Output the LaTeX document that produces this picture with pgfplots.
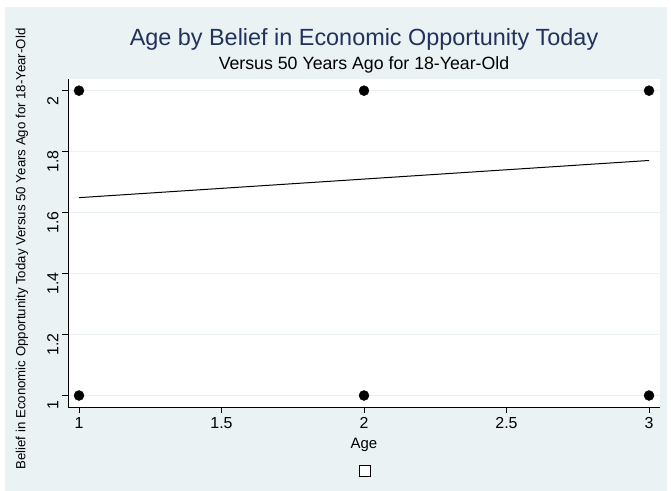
\documentclass[border=0pt]{standalone}
\usepackage{pgfplots}
\pgfplotsset{compat=1.18}
\usepackage{fontspec}
\setmainfont{Liberation Sans}

\definecolor{bgc}{RGB}{234,242,243}
\definecolor{titlec}{RGB}{33,50,92}

\begin{document}
\begin{tikzpicture}[x=1bp,y=1bp]
  % page and graph region
  \fill[white] (0,0) rectangle (671,491);
  \fill[bgc] (5,0) rectangle (667,484);

  \begin{axis}[
    at={(68bp,84bp)}, anchor=south west,
    scale only axis,
    width=592bp, height=328bp,
    xmin=0.9614, xmax=3.0386,
    ymin=0.9623, ymax=2.0383,
    axis background/.style={fill=white},
    axis x line*=bottom, axis y line*=left,
    axis line style={black, line width=0.8bp},
    xtick={1,1.5,2,2.5,3},
    ytick={1,1.2,1.4,1.6,1.8,2},
    tick align=outside,
    major tick length=6bp,
    tick style={black, line width=0.8bp},
    ymajorgrids,
    grid style={bgc, line width=1.2bp},
    /pgf/number format/assume math mode=true,
    ticklabel style={font=\fontsize{16}{16}\selectfont},
    xticklabel style={yshift=-1bp},
    yticklabel style={rotate=90, anchor=south, xshift=-10bp},
    clip=false,
  ]
    % observations
    \addplot[only marks, mark=*, mark size=5bp, black]
      coordinates {(1,1) (1,2) (2,1) (2,2) (3,1) (3,2)};
    % linear fit
    \addplot[black, line width=1bp]
      coordinates {(1,1.649) (3,1.771)};
  \end{axis}

  % titles
  \node[anchor=base, text=titlec, font=\fontsize{23.5}{23.5}\selectfont]
    at (364,445.3) {Age by Belief in Economic Opportunity Today};
  \node[anchor=base, font=\fontsize{17.8}{17.8}\selectfont]
    at (364,421) {Versus 50 Years Ago for 18-Year-Old};

  % axis titles
  \node[anchor=base, font=\fontsize{15}{15}\selectfont]
    at (364,42) {Age};
  \node[rotate=90, font=\fontsize{13.3}{13.3}\selectfont]
    at (22,242) {Belief in Economic Opportunity Today Versus 50 Years Ago for 18-Year-Old};

  % empty legend key
  \node[draw=black, fill=white, line width=0.6bp, minimum size=11bp, inner sep=0pt]
    at (364.5,20) {};
\end{tikzpicture}
\end{document}
